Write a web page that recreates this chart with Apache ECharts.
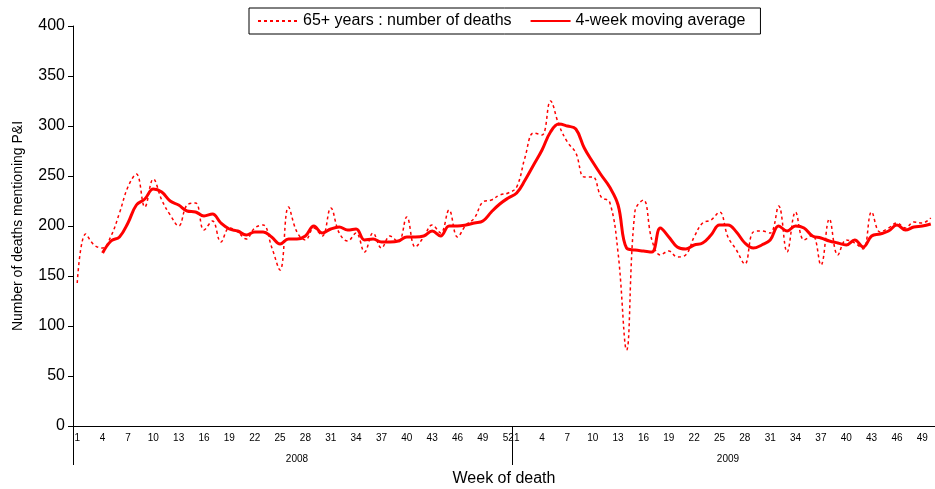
<!DOCTYPE html>
<html lang="en">
<head>
    <meta charset="utf-8">
    <title>Number of deaths mentioning P&amp;I, 65+ years</title>
    <style>
        html, body { margin: 0; padding: 0; background: #fff; }
        #main { width: 935px; height: 489px; }
    </style>
</head>
<body>
<div id="main"></div>

<script src="https://cdn.jsdelivr.net/npm/echarts@6/dist/echarts.min.js"></script>
<script type="text/javascript">
    // weeks of death
    var weeks2008 = [];
    for (var w = 1; w <= 52; w++) weeks2008.push(String(w));
    var weeks2009 = [];
    for (var w2 = 1; w2 <= 50; w2++) weeks2009.push(String(w2));
    var years = ['2008', '2009'];

    // 65+ years : number of deaths
    var deaths2008 = [143, 192, 181, 178, 190, 213, 239, 252, 219, 247, 226, 211, 200, 221, 223, 196,
        205, 184, 198, 194, 187, 198, 201, 179, 156, 219, 194, 186, 198, 190, 218, 193, 185, 193, 174, 193,
        178, 190, 184, 209, 179, 189, 201, 193, 216, 189, 201, 208, 224, 226, 231, 233];
    var deaths2009 = [239, 269, 293, 291, 325, 301, 284, 273, 249, 249, 229, 224, 173, 76, 215, 226,
        186, 171, 175, 169, 171, 189, 203, 206, 214, 189, 176, 162, 194, 195, 193, 220, 174, 214, 186, 191,
        161, 207, 171, 186, 183, 177, 214, 194, 198, 203, 198, 204, 203, 208];

    // 4-week moving average
    var avg2008 = [null, null, null, 173, 185, 189, 203, 221, 227, 237, 234, 225, 221, 215, 214, 210,
        212, 203, 197, 195, 191, 194, 194, 189, 182, 187, 187, 190, 200, 193, 197, 199, 196, 197, 186, 187,
        184, 184, 185, 189, 189, 190, 195, 190, 200, 200, 201, 203, 205, 214, 222, 228];
    var avg2009 = [233, 246, 261, 276, 294, 302, 300, 297, 278, 264, 251, 239, 221, 178, 176, 175,
        174, 198, 189, 179, 177, 181, 183, 191, 201, 201, 194, 183, 178, 181, 186, 200, 195, 200, 198, 190,
        188, 185, 183, 181, 186, 179, 190, 192, 195, 201, 196, 199, 200, 202];

    var weeks = weeks2008.concat(weeks2009);
    var deaths = deaths2008.concat(deaths2009);
    var movingAvg = avg2008.concat(avg2009);

    // year row under the week labels: one label in the middle of each year
    var yearRow = weeks.map(function () { return ''; });
    yearRow[26] = years[0];
    yearRow[weeks2008.length + 25] = years[1];

    var myChart = echarts.init(document.getElementById('main'));

    myChart.setOption({
        animation: false,
        textStyle: {fontFamily: 'Liberation Sans, Arial, sans-serif'},
        legend: {
            top: 8,
            left: 249,
            padding: [5, 15, 5, 8],
            borderColor: '#000',
            borderWidth: 1,
            itemWidth: 40,
            itemHeight: 12,
            itemGap: 18,
            itemStyle: {color: 'transparent', borderColor: 'transparent', borderWidth: 0, opacity: 0},
            textStyle: {fontSize: 16, color: '#000'},
            data: ['65+ years : number of deaths', '4-week moving average']
        },
        grid: {left: 73, right: 0, top: 26, bottom: 63, outerBoundsMode: 'none'},
        xAxis: [
            {
                type: 'category',
                data: weeks,
                boundaryGap: true,
                name: 'Week of death',
                nameLocation: 'middle',
                nameGap: 45,
                nameTextStyle: {fontSize: 16, color: '#000'},
                axisLine: {lineStyle: {color: '#000', width: 1}},
                axisTick: {interval: 0, length: 3, lineStyle: {color: '#000'}},
                axisLabel: {
                    interval: function (index, value) { return Number(value) % 3 === 1; },
                    fontSize: 10,
                    color: '#000',
                    margin: 7
                },
                splitLine: {show: false}
            },
            {
                type: 'category',
                data: yearRow,
                position: 'bottom',
                boundaryGap: true,
                axisLine: {show: false},
                axisTick: {
                    show: true,
                    length: 39,
                    interval: function (index) { return index === 0 || index === weeks2008.length; },
                    lineStyle: {color: '#000'}
                },
                axisLabel: {
                    interval: function (index, value) { return value !== ''; },
                    fontSize: 10,
                    color: '#000',
                    margin: 28
                },
                splitLine: {show: false}
            }
        ],
        yAxis: {
            type: 'value',
            min: 0,
            max: 400,
            interval: 50,
            name: 'Number of deaths mentioning P&I',
            nameLocation: 'middle',
            nameGap: 48,
            nameTextStyle: {fontSize: 14, color: '#000'},
            axisLine: {show: true, lineStyle: {color: '#000'}},
            axisTick: {show: true, length: 5, lineStyle: {color: '#000'}},
            axisLabel: {fontSize: 16, color: '#000', margin: 8},
            splitLine: {show: false}
        },
        series: [
            {
                name: '65+ years : number of deaths',
                type: 'line',
                data: deaths,
                smooth: 0.4,
                symbol: 'none',
                lineStyle: {color: '#ff0000', width: 1.5, type: [3, 3]},
                itemStyle: {color: '#ff0000'}
            },
            {
                name: '4-week moving average',
                type: 'line',
                data: movingAvg,
                smooth: 0.4,
                symbol: 'none',
                connectNulls: false,
                lineStyle: {color: '#ff0000', width: 3},
                itemStyle: {color: '#ff0000'}
            }
        ]
    });
</script>
</body>
</html>
